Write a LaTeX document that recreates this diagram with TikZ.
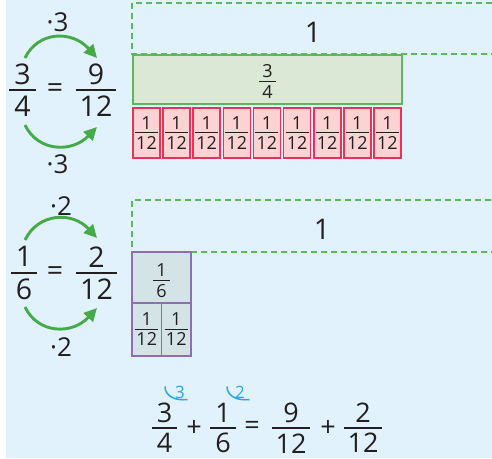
\documentclass[tikz,border=0pt]{standalone}
\usepackage{fontspec}
\setmainfont{Open Sans}
\usetikzlibrary{arrows.meta,calc}
\definecolor{bgblue}{HTML}{E1F2FC}
\definecolor{txt}{HTML}{231F20}
\definecolor{arrgreen}{HTML}{45AA48}
\definecolor{dashgreen}{HTML}{5CB85C}
\definecolor{qfill}{HTML}{DBE8D6}
\definecolor{qdraw}{HTML}{5FB65F}
\definecolor{pfill}{HTML}{FDD2D2}
\definecolor{pdraw}{HTML}{E6335A}
\definecolor{vfill}{HTML}{D3E3E6}
\definecolor{vdraw}{HTML}{8E6DB0}
\definecolor{hint}{HTML}{25A9E0}
\newcommand\fsz[1]{\fontsize{#1}{#1}\selectfont}
% \fr{gap}{overhang}{num}{den}
\newcommand\fr[4]{\begingroup
 \setbox0=\hbox{#3}\setbox2=\hbox{#4}%
 \dimen0=\wd0 \ifdim\wd2>\dimen0 \dimen0=\wd2\fi
 \advance\dimen0 by #2\advance\dimen0 by #2%
 \vbox{\offinterlineskip\hbox to\dimen0{\hss\box0\hss}\kern#1\hrule height 0.06em\kern#1\hbox to\dimen0{\hss\box2\hss}}%
 \endgroup}
\begin{document}
\begin{tikzpicture}[x=1pt,y=-1pt,
  every node/.style={inner sep=0pt,text=txt},
  big/.style={font=\fsz{28.5}},
  mid/.style={font=\fsz{27}},
  multlabel/.style={font=\fsz{26}},
  small/.style={font=\fsz{18}},
  mult/.style={-{Triangle[length=13pt,width=12.5pt]},line width=2.9pt,draw=arrgreen},
  whole/.style={draw=dashgreen,line width=1.5pt,dash pattern=on 6pt off 4pt},
  qbox/.style={draw=qdraw,fill=qfill,line width=1.6pt,minimum width=269.5pt,minimum height=49.5pt,font=\fsz{18}},
  pbox/.style={draw=pdraw,fill=pfill,line width=1.6pt,minimum width=27pt,minimum height=49.5pt,font=\fsz{18}},
  vbig/.style={draw=vdraw,fill=vfill,line width=1.5pt,minimum width=59pt,minimum height=51pt},
  vsmall/.style={draw=vdraw,fill=vfill,line width=1.5pt,minimum width=29.5pt,minimum height=53pt,font=\fsz{18}},
  hintarc/.style={draw=hint,line width=1.5pt},
  hintnum/.style={font=\fsz{17},text=hint}]
\useasboundingbox (0,0) rectangle (492,458);
\fill[white] (0,0) rectangle (492,458);
\fill[bgblue] (6,0) rectangle (492,458);

% ---------- first block ----------
\draw[whole] (497,54) -- (132,54) -- (132,3) -- (497,3);
\node[big] (one1) at (313,32) {1};
\node[qbox] (q) at (267.5,79.5) {\raisebox{-2pt}[\height][\depth]{\fr{3.5pt}{3.5pt}{3}{4}}};
\foreach \i in {0,...,8}
  \node[pbox] (p\i) at ({146.5+30.12*\i},133) {\fr{3pt}{1.2pt}{1}{12}};

\node[big] (fA) at (22.5,90) {\fr{5pt}{5pt}{3}{4}};
\node[big] (eqA) at (55,90.5) {=};
\node[big] (fB) at (96,90) {\fr{5pt}{4pt}{9}{12}};
\coordinate (aTs) at (25,58);  \coordinate (aTe) at (97,58);
\coordinate (aBs) at (25,125); \coordinate (aBe) at (97,127);
\draw[mult] (aTs) .. controls (38,31) and (72,30) .. (aTe);
\draw[mult] (aBs) .. controls (38,152) and (72,153) .. (aBe);
\node[multlabel] (mA1) at (57.5,22.5) {·3};
\node[multlabel] (mA2) at (57.5,164) {·3};

% ---------- second block ----------
\draw[whole] (497,252) -- (132,252) -- (132,200) -- (497,200);
\node[big] (one2) at (322,229) {1};
\node[vbig] (v6) at (161.5,277.5) {};
\node[small] (v6f) at ($(v6.center)+(0,3.5)$) {\fr{3.5pt}{3pt}{1}{6}};
\node[vsmall] (v12a) at (146.75,329.5) {\fr{3pt}{1.2pt}{1}{12}};
\node[vsmall] (v12b) at (176.25,329.5) {\fr{3pt}{1.2pt}{1}{12}};

\node[big] (fC) at (24,273) {\fr{5pt}{5pt}{1}{6}};
\node[big] (eqC) at (55,273.5) {=};
\node[big] (fD) at (96.5,273) {\fr{5pt}{4pt}{2}{12}};
\coordinate (cTs) at (25,240);  \coordinate (cTe) at (97,238);
\coordinate (cBs) at (25,307);  \coordinate (cBe) at (97,308);
\draw[mult] (cTs) .. controls (38,213) and (72,211) .. (cTe);
\draw[mult] (cBs) .. controls (38,334) and (72,335) .. (cBe);
\node[multlabel] (mC1) at (61,206) {·2};
\node[multlabel] (mC2) at (61,347) {·2};

% ---------- sum ----------
\node[mid] (s1) at (164.5,428) {\fr{4.5pt}{5pt}{3}{4}};
\node[mid] (pl1) at (194,428) {+};
\node[mid] (s2) at (223,428) {\fr{4.5pt}{5pt}{1}{6}};
\node[mid] (eqS) at (252,428) {=};
\node[mid] (s3) at (291,428) {\fr{4.5pt}{3.5pt}{9}{12}};
\node[mid] (pl2) at (328,428) {+};
\node[mid] (s4) at (363,428) {\fr{4.5pt}{3.5pt}{2}{12}};

\node[hintnum] (h3) at (180,392) {3};
\node[hintnum] (h2) at (240,392) {2};
\coordinate (h3s) at (165,386.5); \coordinate (h3e) at (187.5,399.5);
\coordinate (h2s) at (227,386.5); \coordinate (h2e) at (249.5,399.5);
\draw[hintarc] (h3s) .. controls (165,396) and (175,401) .. (h3e);
\draw[hintarc] (h2s) .. controls (227,396) and (237,401) .. (h2e);
\end{tikzpicture}
\end{document}
